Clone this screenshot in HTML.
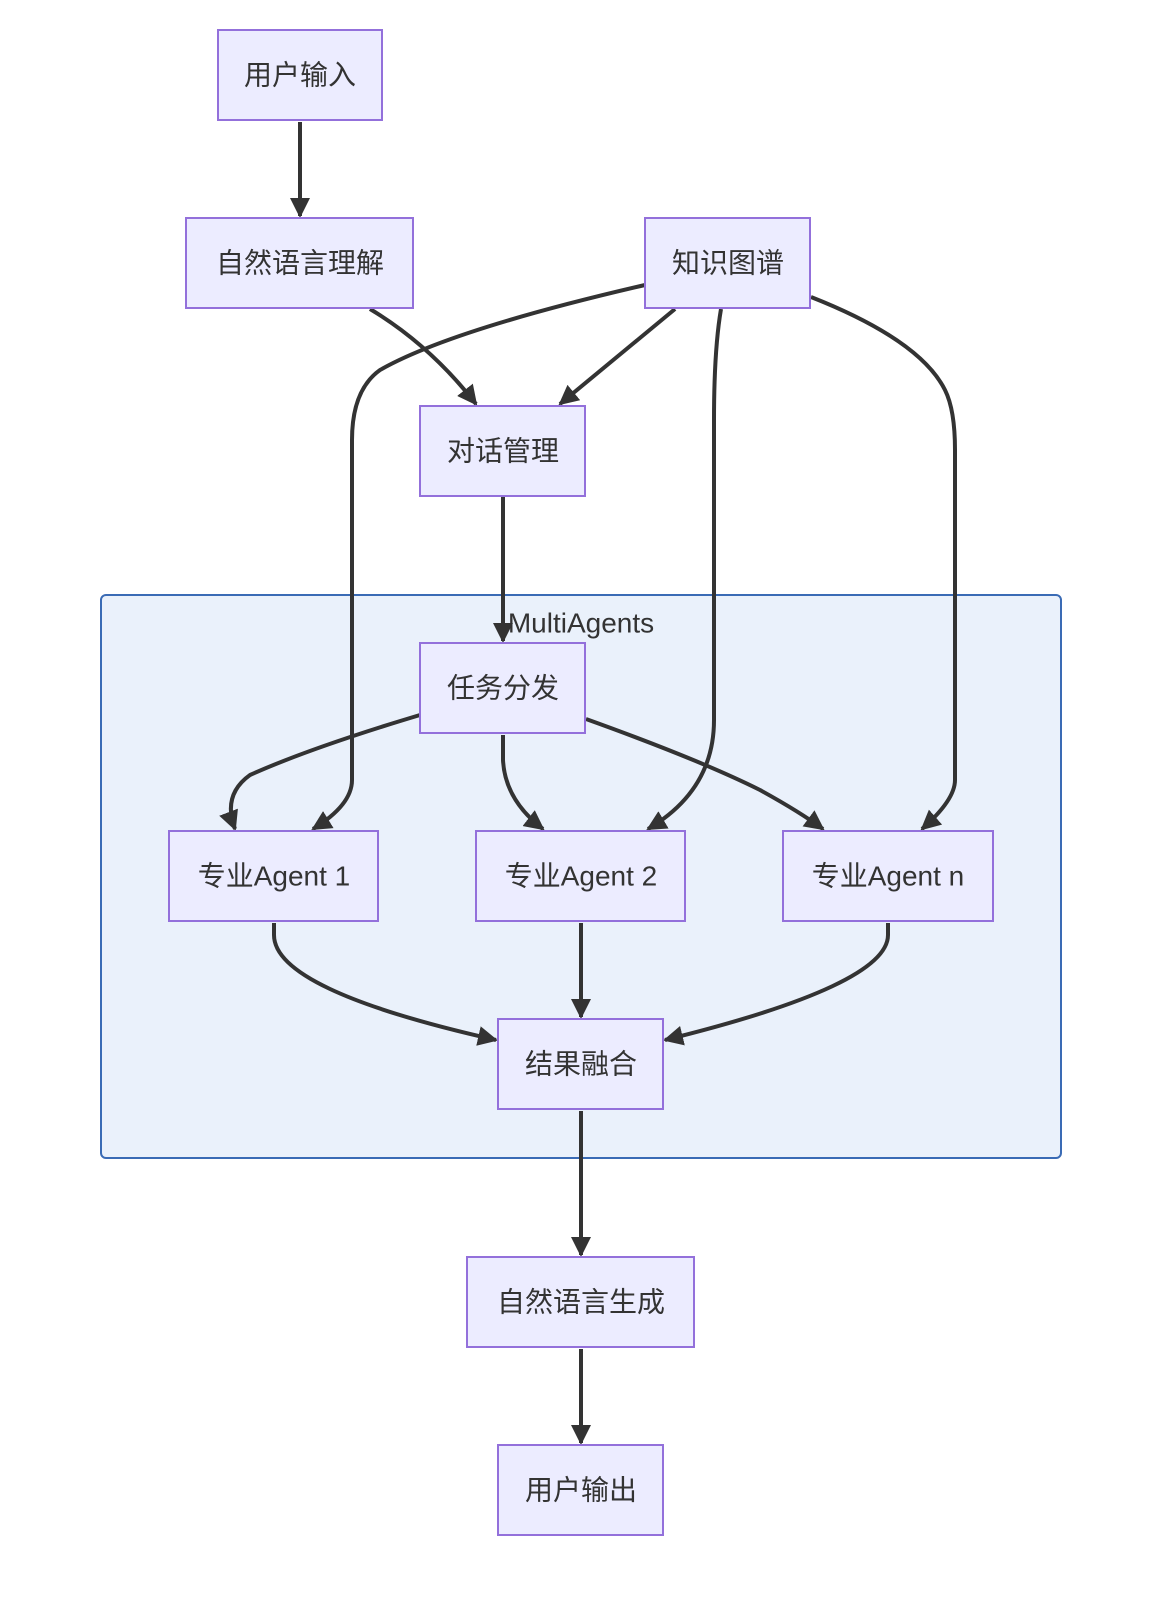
<!DOCTYPE html>
<html><head><meta charset="utf-8"><style>
body{margin:0;background:#fff;}
svg text{font-family:"Liberation Sans","Noto Sans CJK SC",sans-serif;fill:#333;font-size:28px;text-anchor:middle;dominant-baseline:central;}
.n{fill:#ECECFF;stroke:#9370DB;stroke-width:2;}
.e{fill:none;stroke:#333;stroke-width:4;marker-end:url(#a);}
</style></head><body>
<svg width="1174" height="1600" viewBox="0 0 1174 1600" xmlns="http://www.w3.org/2000/svg">
<defs><marker id="a" viewBox="0 0 10 10" refX="9" refY="5" markerWidth="5" markerHeight="5" orient="auto" markerUnits="strokeWidth"><path d="M0,0 L10,5 L0,10 z" fill="#333"/></marker></defs>
<rect x="101" y="595" width="960" height="563" rx="5" fill="#EAF1FB" stroke="#3A6BB5" stroke-width="2"/>
<text x="581" y="623">MultiAgents</text>
<path class="e" d="M300,122 L300,216"/>
<path class="e" d="M370,309 Q430,345 476,404"/>
<path class="e" d="M675,309 L560,404"/>
<path class="e" d="M645,285 Q450,330 380,370 Q352,390 352,440 L352,780 Q352,805 313,829"/>
<path class="e" d="M721,309 Q714,350 714,420 L714,720 Q714,790 648,829"/>
<path class="e" d="M811,297 Q920,340 945,390 Q955,410 955,450 L955,780 Q955,800 922,829"/>
<path class="e" d="M503,497 L503,641"/>
<path class="e" d="M420,715 Q310,748 250,775 Q222,795 235,829"/>
<path class="e" d="M503,735 L503,760 Q505,800 543,829"/>
<path class="e" d="M586,719 Q700,760 760,790 Q800,812 823,829"/>
<path class="e" d="M274,923 L274,935 Q274,990 496,1040"/>
<path class="e" d="M581,923 L581,1017"/>
<path class="e" d="M888,923 L888,935 Q888,985 665,1040"/>
<path class="e" d="M581,1111 L581,1255"/>
<path class="e" d="M581,1349 L581,1443"/>
<rect class="n" x="218" y="30" width="164" height="90"/><text x="300" y="75">用户输入</text>
<rect class="n" x="186" y="218" width="227" height="90"/><text x="300" y="263">自然语言理解</text>
<rect class="n" x="645" y="218" width="165" height="90"/><text x="728" y="263">知识图谱</text>
<rect class="n" x="420" y="406" width="165" height="90"/><text x="503" y="451">对话管理</text>
<rect class="n" x="420" y="643" width="165" height="90"/><text x="503" y="688">任务分发</text>
<rect class="n" x="169" y="831" width="209" height="90"/><text x="274" y="876">专业Agent 1</text>
<rect class="n" x="476" y="831" width="209" height="90"/><text x="581" y="876">专业Agent 2</text>
<rect class="n" x="783" y="831" width="210" height="90"/><text x="888" y="876">专业Agent n</text>
<rect class="n" x="498" y="1019" width="165" height="90"/><text x="581" y="1064">结果融合</text>
<rect class="n" x="467" y="1257" width="227" height="90"/><text x="581" y="1302">自然语言生成</text>
<rect class="n" x="498" y="1445" width="165" height="90"/><text x="581" y="1490">用户输出</text>
</svg>
</body></html>
